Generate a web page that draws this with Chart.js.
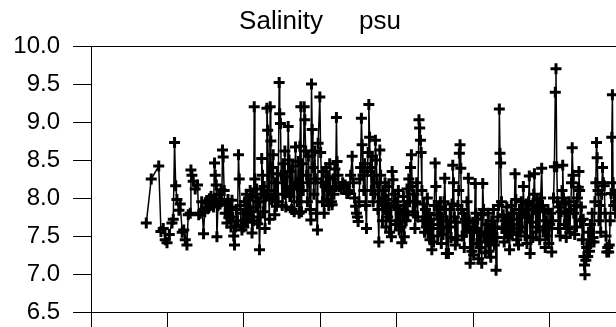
<!DOCTYPE html>
<html>
<head>
<meta charset="utf-8">
<script src="https://cdn.jsdelivr.net/npm/chart.js@4"></script>
<style>
  html, body { margin: 0; padding: 0; background: #fff; }
  canvas { display: block; }
</style>
</head>
<body>
<canvas id="salinityChart" width="616" height="327"></canvas>
<script>
  // time axis in years from the first tick
  const sampleYear = [
    0.723, 0.788, 0.886, 0.915, 0.945, 0.971, 0.994, 1.024, 1.059, 1.076,
    1.093, 1.108, 1.124, 1.150, 1.167, 1.193, 1.213, 1.233, 1.255, 1.272,
    1.298, 1.307, 1.320, 1.337, 1.363, 1.393, 1.409, 1.429,
    1.448, 1.472, 1.488, 1.501, 1.514, 1.527, 1.537, 1.549, 1.560, 1.570,
    1.580, 1.591, 1.603, 1.616, 1.625, 1.638, 1.647, 1.661, 1.675, 1.688,
    1.701, 1.711, 1.720, 1.729, 1.742, 1.755, 1.769, 1.778, 1.792, 1.805,
    1.818, 1.831, 1.844, 1.855, 1.867, 1.877, 1.890, 1.903, 1.916, 1.929,
    1.939, 1.952, 1.962, 1.974, 1.987, 1.999, 2.010, 2.022, 2.034, 2.046,
    2.058, 2.069, 2.082,
    2.094, 2.106, 2.118, 2.127, 2.135, 2.144, 2.156, 2.167, 2.179, 2.191,
    2.204, 2.214, 2.225, 2.233, 2.243, 2.254, 2.265, 2.277, 2.289, 2.301,
    2.311, 2.323, 2.333, 2.344, 2.352, 2.362, 2.373, 2.383, 2.394, 2.404,
    2.414, 2.426, 2.437, 2.448, 2.461, 2.469, 2.478, 2.489, 2.501, 2.512,
    2.524, 2.536, 2.548, 2.559, 2.570, 2.579, 2.590, 2.601, 2.613, 2.625,
    2.637, 2.648, 2.658, 2.675, 2.686, 2.698, 2.710, 2.722, 2.732, 2.745,
    2.753,
    2.765, 2.776, 2.788, 2.797, 2.808, 2.820, 2.831, 2.843, 2.855, 2.867,
    2.876, 2.884, 2.893, 2.903, 2.915, 2.927, 2.939, 2.950, 2.962, 2.971,
    2.993, 3.004, 3.016, 3.027, 3.039, 3.050, 3.063, 3.075, 3.086, 3.098,
    3.110, 3.122, 3.133, 3.145, 3.154, 3.166, 3.178, 3.190, 3.200, 3.210,
    3.218, 3.230, 3.242,
    3.255, 3.272, 3.292, 3.309, 3.324, 3.346, 3.363, 3.379, 3.396, 3.416,
    3.431, 3.448, 3.461, 3.472, 3.485, 3.494,
    3.505, 3.516, 3.527, 3.537, 3.546, 3.557, 3.569, 3.580, 3.592, 3.603,
    3.614, 3.625, 3.634, 3.644, 3.655, 3.667, 3.678, 3.690, 3.702, 3.711,
    3.720, 3.731, 3.743, 3.753, 3.765, 3.778, 3.788,
    3.800, 3.812, 3.824, 3.834, 3.846, 3.858, 3.869, 3.881, 3.893, 3.905,
    3.916, 3.929, 3.939, 3.949, 3.961, 3.973, 3.984, 3.996, 4.008, 4.020,
    4.031, 4.043, 4.055, 4.065, 4.076, 4.086, 4.098, 4.110, 4.122, 4.133,
    4.145, 4.157, 4.169, 4.180, 4.191, 4.201, 4.213, 4.225, 4.237, 4.248,
    4.260, 4.272, 4.290, 4.299, 4.309, 4.318,
    4.328, 4.340, 4.352, 4.363, 4.375, 4.387, 4.399, 4.409, 4.421, 4.433,
    4.444, 4.458, 4.469, 4.480, 4.490, 4.501, 4.511, 4.523, 4.535, 4.546,
    4.558, 4.570, 4.582, 4.593, 4.605, 4.617, 4.627, 4.638, 4.648, 4.660,
    4.675, 4.686, 4.698, 4.710, 4.722, 4.732, 4.741, 4.753, 4.765, 4.776,
    4.788, 4.800, 4.810, 4.818, 4.827, 4.837, 4.847, 4.859, 4.871, 4.882,
    4.894, 4.906, 4.918, 4.928, 4.936, 4.948, 4.958,
    4.970, 4.982, 4.993, 5.005, 5.017, 5.025, 5.035, 5.047, 5.059, 5.071,
    5.082, 5.094, 5.105, 5.111, 5.124, 5.135, 5.146, 5.158, 5.170, 5.182,
    5.194, 5.205, 5.217, 5.229, 5.241, 5.252, 5.264, 5.276, 5.288, 5.298,
    5.310, 5.322, 5.332, 5.341, 5.350, 5.358, 5.369,
    5.380, 5.392, 5.404, 5.416, 5.427, 5.439, 5.451, 5.463, 5.475, 5.486,
    5.498, 5.510, 5.522, 5.533, 5.546, 5.557, 5.569, 5.580, 5.592, 5.604,
    5.616, 5.627, 5.639, 5.655, 5.667, 5.678, 5.690, 5.702, 5.714, 5.724,
    5.733, 5.743, 5.754, 5.766, 5.778, 5.790, 5.800, 5.810, 5.822, 5.834,
    5.846, 5.858, 5.869, 5.881, 5.895, 5.906, 5.918, 5.929, 5.941, 5.953,
    5.965, 5.976, 5.988, 6.000, 6.012, 6.026,
    6.038, 6.050, 6.061, 6.073, 6.082, 6.092, 6.102, 6.114, 6.126, 6.137,
    6.149, 6.161, 6.170, 6.180, 6.192, 6.204, 6.216, 6.228, 6.239, 6.251,
    6.263, 6.275, 6.285, 6.294, 6.305, 6.315, 6.327, 6.339, 6.350, 6.362,
    6.374, 6.382, 6.391, 6.403, 6.414, 6.426, 6.438, 6.448, 6.455, 6.461,
    6.472, 6.484, 6.497, 6.508, 6.520, 6.532, 6.544, 6.556, 6.567, 6.579,
    6.591, 6.603, 6.612, 6.621, 6.632, 6.643, 6.655, 6.667, 6.679, 6.691,
    6.701, 6.713, 6.724, 6.736, 6.747, 6.759, 6.771, 6.779, 6.791, 6.803,
    6.812, 6.820, 6.828, 6.838, 6.849, 6.861, 6.874, 6.890, 6.910,
  ];

  const salinity = [
    7.67, 8.25, 8.42, 7.56, 7.60, 7.45, 7.41, 7.52, 7.67, 7.72,
    8.73, 8.16, 7.98, 7.84, 7.92, 7.55, 7.58, 7.45, 7.38, 7.78,
    7.80, 8.37, 8.30, 8.22, 8.12, 8.17, 7.78, 7.80,
    7.95, 7.53, 7.82, 7.88, 7.96, 7.86, 7.93, 7.99, 7.90, 8.02,
    7.94, 7.98, 7.88, 8.46, 8.30, 8.17, 7.49, 7.90, 8.05, 7.92,
    8.11, 7.95, 8.63, 8.54, 8.10, 7.80, 7.92, 7.67, 7.98, 7.74,
    7.88, 7.62, 7.97, 7.75, 7.50, 7.38, 7.62, 7.85, 7.70, 8.57,
    8.25, 7.90, 7.64, 7.58, 7.80, 7.62, 7.95, 7.72, 8.05, 7.68,
    7.98, 7.78, 8.10,
    7.82, 7.54, 8.02, 7.70, 9.20, 8.25, 7.88, 8.12, 7.66, 7.95,
    7.32, 7.75, 8.05, 8.52, 8.30, 7.82, 8.15, 7.60, 8.02, 9.18,
    8.89, 8.10, 7.72, 9.20, 8.75, 7.98, 8.40, 8.57, 8.05, 7.78,
    8.20, 7.89, 8.32, 7.95, 9.52, 9.11, 8.98, 8.30, 7.90, 8.45,
    8.05, 8.62, 7.88, 8.28, 8.10, 8.94, 8.50, 8.02, 8.35, 7.85,
    8.42, 8.12, 7.82, 8.67, 8.20, 7.95, 8.48, 7.80, 8.68, 9.20,
    7.82,
    8.45, 8.10, 9.20, 9.03, 8.62, 8.30, 7.95, 8.55, 8.20, 7.85,
    7.71, 9.50, 8.90, 8.40, 8.05, 8.62, 8.25, 7.80, 7.58, 8.72,
    9.33, 8.60, 8.20, 7.95, 8.35, 7.80, 8.15, 8.40, 7.98, 8.28,
    7.90, 8.45, 8.10, 7.95, 7.91, 8.25, 8.05, 8.38, 8.15, 9.06,
    8.48, 8.30, 8.15,
    8.15, 8.12, 8.20, 8.14, 8.17, 8.06, 8.06, 8.10, 8.30, 8.55,
    8.20, 8.00, 7.89, 7.80, 7.75, 7.69,
    7.95, 8.25, 8.40, 9.05, 8.70, 8.30, 8.10, 8.45, 7.90, 7.60,
    8.35, 8.60, 9.23, 8.80, 8.40, 8.10, 8.55, 7.95, 8.30, 8.05,
    8.76, 8.50, 8.20, 7.85, 7.42, 8.63, 8.30,
    7.95, 7.70, 8.10, 7.85, 8.20, 7.62, 7.98, 7.75, 8.15, 7.55,
    7.88, 7.49, 8.35, 8.24, 7.90, 8.05, 7.65, 7.95, 7.70, 8.10,
    7.58, 7.85, 7.62, 7.41, 7.80, 8.02, 7.49, 7.90, 7.70, 8.12,
    7.78, 8.25, 7.95, 8.40, 8.57, 8.15, 7.82, 8.05, 7.60, 7.95,
    8.20, 7.75, 9.03, 8.92, 8.76, 8.60,
    8.10, 7.70, 7.92, 7.55, 7.85, 7.62, 8.00, 7.54, 7.80, 7.45,
    7.72, 7.32, 7.65, 7.42, 7.90, 8.46, 8.15, 7.78, 7.50, 7.88,
    7.60, 7.95, 7.40, 7.75, 7.52, 7.95, 8.26, 7.85, 7.27, 7.70,
    7.27, 7.62, 7.85, 7.48, 7.92, 8.43, 8.20, 7.75, 7.38, 7.68,
    7.45, 7.90, 8.10, 8.59, 8.70, 8.39, 7.85, 7.50, 7.80, 7.35,
    7.72, 7.55, 7.95, 7.62, 8.26, 7.70, 7.14,
    7.55, 7.30, 7.68, 7.25, 7.60, 8.19, 7.80, 7.40, 7.72, 7.20,
    7.55, 7.35, 7.78, 7.14, 8.19, 7.85, 7.50, 7.28, 7.65, 7.42,
    7.80, 7.30, 7.58, 7.22, 7.70, 7.45, 7.85, 7.38, 7.62, 7.05,
    7.48, 7.75, 7.90, 9.17, 8.59, 8.46, 7.95,
    7.60, 7.78, 7.42, 7.70, 7.55, 7.88, 7.48, 7.75, 7.32, 7.65,
    7.90, 7.52, 7.80, 7.60, 8.32, 7.98, 7.45, 7.72, 7.38, 7.85,
    7.55, 7.95, 7.62, 8.15, 7.80, 7.50, 7.92, 7.40, 7.75, 7.95,
    8.29, 7.27, 7.68, 7.90, 7.48, 8.05, 8.32, 7.85, 7.55, 7.98,
    7.62, 7.88, 7.45, 8.00, 8.39, 7.90, 7.58, 7.82, 7.35, 7.70,
    7.50, 7.85, 7.40, 7.65, 7.80, 7.29,
    7.70, 8.00, 8.41, 9.39, 9.70, 8.41, 7.95, 7.60, 7.88, 7.50,
    7.82, 8.10, 8.43, 8.00, 7.65, 7.92, 7.48, 7.80, 7.60, 7.95,
    7.55, 7.85, 8.20, 8.66, 8.30, 7.80, 7.52, 7.90, 7.62, 8.00,
    8.14, 8.35, 8.10, 7.70, 7.88, 7.45, 7.72, 7.23, 7.12, 6.99,
    7.18, 7.35, 7.23, 7.55, 7.30, 7.65, 7.42, 7.80, 7.48, 7.42,
    7.95, 8.20, 8.73, 8.53, 8.10, 7.70, 7.90, 7.55, 8.05, 8.40,
    8.20, 8.16, 7.80, 7.50, 7.29, 7.35, 7.29, 7.38, 7.70, 8.06,
    8.80, 9.36, 8.20, 7.90, 8.05, 7.80, 7.95, 7.60, 8.10,
  ];

  const yTickValues = [6.5, 7.0, 7.5, 8.0, 8.5, 9.0, 9.5, 10.0];
  const titleText = "Salinity     psu";

  const fontFamily = "'Liberation Sans', Arial, sans-serif";

  const points = sampleYear.map((t, i) => ({ x: t, y: salinity[i] }));

  // title sits a little right of the canvas centre, as in the original plot
  const plotTitle = {
    id: "plotTitle",
    afterDraw: (chart) => {
      const c = chart.ctx;
      c.save();
      c.fillStyle = "#000";
      c.font = "26px " + fontFamily;
      c.textAlign = "center";
      c.textBaseline = "middle";
      c.fillText(titleText, chart.width / 2 + 12, 22);
      c.restore();
    },
  };

  const ctx = document.getElementById("salinityChart").getContext("2d");

  new Chart(ctx, {
    type: "line",
    data: {
      datasets: [
        {
          data: points,
          borderColor: "#000",
          borderWidth: 1.5,
          tension: 0,
          fill: false,
          pointStyle: "cross",
          pointRadius: 5.5,
          pointBorderWidth: 3,
          pointBorderColor: "#000",
          pointBackgroundColor: "#000",
        },
      ],
    },
    options: {
      responsive: false,
      animation: false,
      layout: {
        autoPadding: false,
        padding: { left: 0, right: 0, top: 46, bottom: 0 },
      },
      plugins: {
        legend: { display: false },
        tooltip: { enabled: false },
        title: { display: false },
      },
      scales: {
        x: {
          type: "linear",
          min: 0,
          max: 6.867,
          ticks: { display: false, stepSize: 1 },
          grid: { drawOnChartArea: false, tickLength: 15, color: "#000" },
          border: { color: "#000", width: 1 },
        },
        xTop: {
          type: "linear",
          position: "top",
          min: 0,
          max: 6.867,
          ticks: { display: false },
          grid: { display: false, drawTicks: false },
          border: { color: "#000", width: 1 },
        },
        y: {
          min: 6.5,
          max: 10,
          afterBuildTicks: (scale) => {
            scale.ticks = yTickValues.map((v) => ({ value: v }));
          },
          afterFit: (scale) => {
            scale.width = 91;
            scale.paddingTop = 0;
            scale.paddingBottom = 0;
          },
          ticks: {
            color: "#000",
            padding: 13,
            font: { family: fontFamily, size: 24 },
            callback: (v) => Number(v).toFixed(1),
          },
          grid: { drawOnChartArea: false, tickLength: 18, color: "#000" },
          border: { color: "#000", width: 1 },
        },
      },
    },
    plugins: [plotTitle],
  });
</script>
</body>
</html>
